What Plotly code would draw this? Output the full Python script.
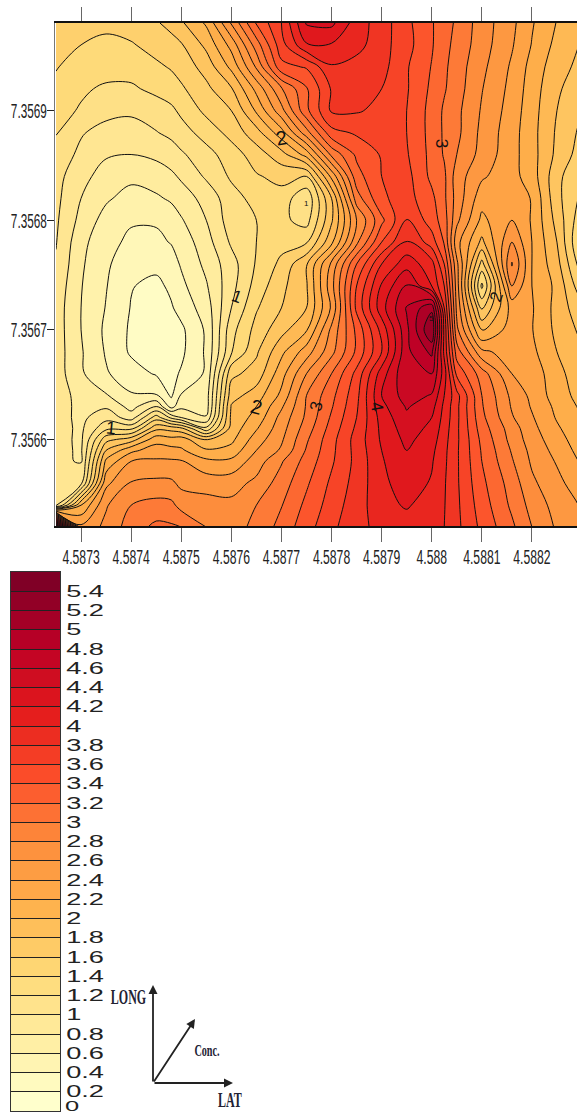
import plotly.graph_objects as go

# Grid positions
lat = [4.58725, 4.5873, 4.58735, 4.5874, 4.58745, 4.58748, 4.5875, 4.58755, 4.5876, 4.58765, 4.5877, 4.58775,
       4.5878, 4.58785, 4.5879, 4.58795, 4.588, 4.588025, 4.58805, 4.5881, 4.58816, 4.5882, 4.58825, 4.5883]
long_ = [7.35698, 7.35696, 7.35694, 7.35692, 7.3569, 7.35688, 7.35686, 7.35684, 7.35682, 7.3568, 7.35678, 7.35676,
         7.35674, 7.35672, 7.3567, 7.35668, 7.35666, 7.35664, 7.35663, 7.35662, 7.35661, 7.3566, 7.35659, 7.35658,
         7.35656, 7.35654, 7.35652]

conc = [
 [1.5,1.47,1.45,1.5,1.58,1.66,1.77,2.03,2.62,3.22,3.6,4.22,4.25,3.9,3.7,3.45,3.22,3.08,2.97,2.7,2.45,2.22,1.99,1.82],
 [1.47,1.4,1.35,1.38,1.48,1.53,1.58,1.85,2.27,2.9,3.52,3.98,3.98,3.87,3.68,3.47,3.22,3.06,2.94,2.69,2.42,2.19,1.94,1.78],
 [1.41,1.33,1.28,1.28,1.36,1.42,1.48,1.68,2.05,2.63,3.34,3.42,3.78,3.72,3.67,3.42,3.19,3.04,2.9,2.65,2.37,2.13,1.88,1.74],
 [1.36,1.23,1.17,1.17,1.25,1.3,1.37,1.55,1.78,2.26,2.78,3.18,3.62,3.66,3.6,3.42,3.16,3.02,2.89,2.61,2.34,2.1,1.83,1.68],
 [1.27,1.18,1.07,1.04,1.1,1.16,1.24,1.45,1.6,2.03,2.53,3.15,3.63,3.62,3.55,3.4,3.13,2.97,2.85,2.58,2.31,2.08,1.8,1.6],
 [1.21,1.02,.92,.9,.99,1.05,1.12,1.28,1.47,1.72,2.12,2.72,3.33,3.43,3.48,3.4,3.13,2.97,2.85,2.55,2.28,2.07,1.77,1.55],
 [1.13,.95,.82,.8,.84,.9,.97,1.13,1.3,1.5,1.72,2.08,2.85,3.24,3.42,3.42,3.14,2.98,2.8,2.53,2.27,2.08,1.75,1.5],
 [1.07,.86,.72,.65,.7,.76,.83,1.03,1.23,1.38,1.46,1.4,2.25,3.12,3.4,3.47,3.15,3.04,2.7,2.43,2.27,2.1,1.66,1.4],
 [1.05,.8,.63,.52,.57,.63,.7,.87,1.12,1.27,1.32,1.03,1.8,2.9,3.37,3.48,3.25,3.04,2.72,2.28,2.3,2.19,1.66,1.35],
 [1.03,.74,.52,.42,.42,.49,.58,.8,1.1,1.2,1.25,1.12,1.77,2.6,3.15,3.62,3.3,3.1,2.65,2.15,2.4,2.18,1.73,1.25],
 [1.01,.66,.46,.36,.36,.41,.48,.72,1.03,1.2,1.33,1.38,1.95,2.75,3.4,3.83,3.5,3.18,2.47,1.95,2.6,2.2,1.8,1.15],
 [.98,.63,.43,.28,.25,.32,.42,.65,.92,1.22,1.45,1.78,2.45,3.2,3.8,4.12,3.88,3.4,2.65,1.52,2.82,2.2,1.87,1.28],
 [.93,.61,.41,.21,.15,.24,.35,.58,.93,1.28,1.55,1.78,2.53,3.4,4.03,4.42,4.0,3.6,2.7,1.15,2.6,2.2,1.95,1.45],
 [.9,.6,.39,.19,.12,.18,.27,.5,1.0,1.38,1.6,1.8,2.43,3.45,4.12,4.62,4.95,3.8,2.75,1.58,2.28,2.22,1.93,1.65],
 [.9,.6,.36,.17,.1,.13,.16,.43,1.13,1.47,1.73,1.98,2.65,3.25,3.87,4.55,5.2,3.95,2.85,1.97,2.3,2.21,1.95,1.75],
 [.9,.62,.38,.17,.1,.12,.16,.43,1.18,1.57,1.95,2.3,2.74,3.24,3.8,4.55,4.85,3.95,3.1,2.45,2.3,2.25,2.0,1.82],
 [.9,.63,.42,.29,.18,.15,.22,.43,1.55,1.68,2.12,2.6,3.0,3.46,4.1,4.58,4.6,4.1,3.35,2.9,2.4,2.33,2.06,1.88],
 [.9,.73,.62,.42,.42,.17,.42,.5,1.72,1.9,2.25,2.8,3.14,3.54,4.2,4.5,4.38,4.0,3.67,3.0,2.55,2.35,2.1,1.92],
 [.9,.74,.77,.53,.8,.32,.55,.5,1.82,2.0,2.37,2.82,3.18,3.57,4.14,4.42,4.28,3.95,3.65,3.02,2.58,2.38,2.15,1.96],
 [.88,.75,.93,.7,1.3,.95,.8,.62,1.85,2.07,2.47,2.84,3.23,3.6,4.08,4.36,4.2,3.93,3.65,3.05,2.62,2.42,2.18,2.0],
 [.88,.76,1.15,1.15,1.75,1.72,1.65,1.05,1.88,2.18,2.52,2.9,3.28,3.64,4.05,4.3,4.15,3.9,3.64,3.1,2.7,2.46,2.23,2.04],
 [.87,.76,1.53,1.7,2.12,2.07,2.1,1.78,1.95,2.3,2.57,2.97,3.33,3.68,4.03,4.25,4.1,3.87,3.64,3.15,2.73,2.5,2.28,2.08],
 [.86,.77,1.8,2.15,2.3,2.27,2.23,2.03,2.07,2.4,2.63,3.02,3.35,3.67,4.0,4.2,4.05,3.85,3.63,3.18,2.78,2.54,2.33,2.12],
 [.85,.78,2.05,2.4,2.43,2.43,2.42,2.25,2.25,2.5,2.78,3.08,3.37,3.66,3.98,4.16,4.02,3.84,3.63,3.2,2.82,2.57,2.38,2.17],
 [.85,.95,2.35,2.62,2.65,2.64,2.55,2.52,2.52,2.65,2.9,3.17,3.44,3.68,3.95,4.1,3.98,3.82,3.63,3.25,2.91,2.64,2.46,2.27],
 [.92,2.0,2.58,2.8,2.87,2.85,2.73,2.68,2.65,2.8,2.99,3.25,3.49,3.72,3.91,4.03,3.87,3.81,3.64,3.3,2.96,2.73,2.52,2.38],
 [5.55,2.45,2.65,2.9,3.05,3.03,3.0,2.8,2.72,2.85,3.07,3.32,3.55,3.75,3.85,3.87,3.83,3.8,3.65,3.35,3.04,2.8,2.57,2.42],
]

x_ticks = [4.5873, 4.5874, 4.5875, 4.5876, 4.5877, 4.5878, 4.5879, 4.588, 4.5881, 4.5882]
x_labels = ["4.5873", "4.5874", "4.5875", "4.5876", "4.5877", "4.5878", "4.5879", "4.588", "4.5881", "4.5882"]
y_ticks = [7.3566, 7.3567, 7.3568, 7.3569]
y_labels = ["7.3566", "7.3567", "7.3568", "7.3569"]
bar_ticks = [.2, .4, .6, .8, 1, 1.2, 1.4, 1.6, 1.8, 2, 2.2, 2.4, 2.6, 2.8, 3, 3.2, 3.4, 3.6, 3.8, 4, 4.2, 4.4, 4.6, 4.8, 5, 5.2, 5.4]
bar_labels = ["0.2", "0.4", "0.6", "0.8", "1", "1.2", "1.4", "1.6", "1.8", "2", "2.2", "2.4", "2.6", "2.8", "3", "3.2",
              "3.4", "3.6", "3.8", "4", "4.2", "4.4", "4.6", "4.8", "5", "5.2", "5.4"]
bar_mids = [.1, .3, .5, .7, .9, 1.1, 1.3, 1.5, 1.7, 1.9, 2.1, 2.3, 2.5, 2.7, 2.9, 3.1, 3.3, 3.5, 3.7, 3.9, 4.1, 4.3, 4.5, 4.7, 4.9, 5.1, 5.3, 5.5]
# contour labels: text, lat, long, angle, size
line_labels = [("2", 4.5877, 7.356875, -10, 20), ("3", 4.58802, 7.35687, 90, 17), ("1", 4.58775, 7.356815, 0, 8),
               ("1", 4.58761, 7.35673, 20, 17), ("2", 4.58765, 7.35663, 15, 20), ("1", 4.58736, 7.35661, 5, 18),
               ("3", 4.58777, 7.35663, -75, 17), ("4", 4.58789, 7.35663, 80, 17), ("2", 4.58813, 7.35673, -70, 17),
               ("5", 4.588, 7.35671, 0, 8)]

YLOR = ["#FFFFCC", "#FFEDA0", "#FED976", "#FEB24C", "#FD8D3C", "#FC4E2A", "#E31A1C", "#BD0026", "#800026"]
SCALE = [[i / 8, c] for i, c in enumerate(YLOR)]
W, H = 577, 1115
px = lambda v: v / W
py = lambda v: 1 - v / H

fig = go.Figure()
fig.add_trace(go.Contour(
    x=lat, y=long_, z=conc,
    zmin=0, zmax=5.6, autocontour=False,
    contours=dict(start=0, end=5.6, size=0.2, coloring="fill"),
    colorscale=SCALE, showscale=False,
    line=dict(color="#111111", width=1, smoothing=1),
    hoverinfo="skip",
))
fig.add_trace(go.Heatmap(
    x=[0, 1], y=bar_mids, z=[[m, m] for m in bar_mids], zmin=0.1, zmax=5.5, colorscale=SCALE, showscale=False,
    xaxis="x2", yaxis="y2", hoverinfo="skip",
))

ann = [dict(text=t, x=a, y=b, xref="x", yref="y", showarrow=False, textangle=r, xanchor="center", yanchor="middle",
            font=dict(family="Liberation Sans", size=s, color="#111111"))
       for t, a, b, r, s in line_labels]


def arrow(x0, y0, x1, y1):
    return dict(x=px(x1), y=py(y1), ax=x0 - x1, ay=y0 - y1, xref="paper", yref="paper", axref="pixel", ayref="pixel",
                text="", showarrow=True, arrowhead=2, arrowsize=1, arrowwidth=1.8, arrowcolor="#222222")


def note(t, x, y, s):
    return dict(text=f"<b>{t}</b>", x=px(x), y=py(y), xref="paper", yref="paper", showarrow=False,
                xanchor="center", yanchor="middle", font=dict(family="Liberation Serif", size=s, color="#222233"))


ann += [arrow(153, 1083, 153, 985), arrow(153, 1083, 233, 1083), arrow(153, 1083, 195, 1019),
        note("LONG", 128, 997, 20), note("LAT", 230, 1100, 20), note("Conc.", 207, 1050, 17),
        dict(text="0", x=px(72), y=py(1105), xref="paper", yref="paper", showarrow=False, xanchor="center",
             yanchor="middle", font=dict(family="Liberation Sans", size=15, color="#222222"))]

tick_font = dict(family="Liberation Sans", size=21, color="#222222")
fig.update_layout(
    width=W, height=H, autosize=False, margin=dict(l=0, r=0, t=0, b=0),
    paper_bgcolor="white", plot_bgcolor="white", annotations=ann, showlegend=False,
    xaxis=dict(domain=[55 / W, 1], range=[4.587248, 4.58829], anchor="y", tickmode="array", tickvals=x_ticks,
               ticktext=x_labels, tickangle=0, ticks="outside", ticklen=14, tickcolor="#666666", tickwidth=1,
               showline=True, linecolor="#111111", linewidth=1.5, mirror="allticks", showgrid=False, zeroline=False,
               automargin=False, tickfont=tick_font),
    yaxis=dict(domain=[1 - 526 / H, 1 - 23 / H], range=[7.356521, 7.35698], anchor="x", tickmode="array",
               tickvals=y_ticks, ticktext=y_labels, ticks="outside", ticklen=7, tickcolor="#222222", tickwidth=1,
               showline=True, linecolor="#777777", linewidth=1, showgrid=False, zeroline=False, automargin=False,
               tickfont=tick_font),
    xaxis2=dict(domain=[11 / W, 60 / W], range=[0.5, 1], anchor="y2", showticklabels=False, ticks="", showgrid=False,
                zeroline=False, showline=True, linecolor="#333333", linewidth=1, mirror=True, automargin=False),
    yaxis2=dict(domain=[1 - 1111 / H, 1 - 572 / H], range=[0, 5.6], anchor="x2", side="right", tickmode="array",
                tickvals=bar_ticks, ticktext=bar_labels, ticks="inside", ticklen=49, tickcolor="#222222", tickwidth=1,
                showgrid=False, zeroline=False, showline=True, linecolor="#333333", linewidth=1, mirror=True,
                automargin=False, tickfont=dict(family="Liberation Sans", size=16, color="#222222")),
)

# page without margin; the reference's labels are stretched: squeeze or widen the real text elements
STRETCH = """
document.body.style.margin = '0';
document.documentElement.style.overflow = 'hidden';
var gd = document.getElementById('{plot_id}');
function squeeze(sel, sx, dx, dy) {
  gd.querySelectorAll(sel).forEach(function (t) {
    var cx = parseFloat(t.getAttribute('x')) || 0;
    var cur = t.getAttribute('transform') || '';
    t.setAttribute('transform', cur + ' translate(' + (cx + dx) + ',' + dy + ') scale(' + sx + ',1) translate(' + (-cx) + ',0)');
  });
}
squeeze('.xtick text', 0.58, 0, -3);
squeeze('.ytick text', 0.56, 4, 0);
squeeze('.y2tick text', 1.7, 2, 0);
gd.querySelectorAll('.annotation-text').forEach(function (t) {
  var s = t.textContent, sx = (s === 'LONG' || s === 'LAT' || s === 'Conc.') ? 0.6 : (s === '0' ? 1.7 : 0);
  if (sx) {
    var b = t.getBBox(), cx = b.x + b.width / 2;
    var cur = t.getAttribute('transform') || '';
    t.setAttribute('transform', cur + ' translate(' + cx + ',0) scale(' + sx + ',1) translate(' + (-cx) + ',0)');
  }
});
"""
fig.write_html("out.html", post_script=STRETCH, config=dict(displayModeBar=False))
